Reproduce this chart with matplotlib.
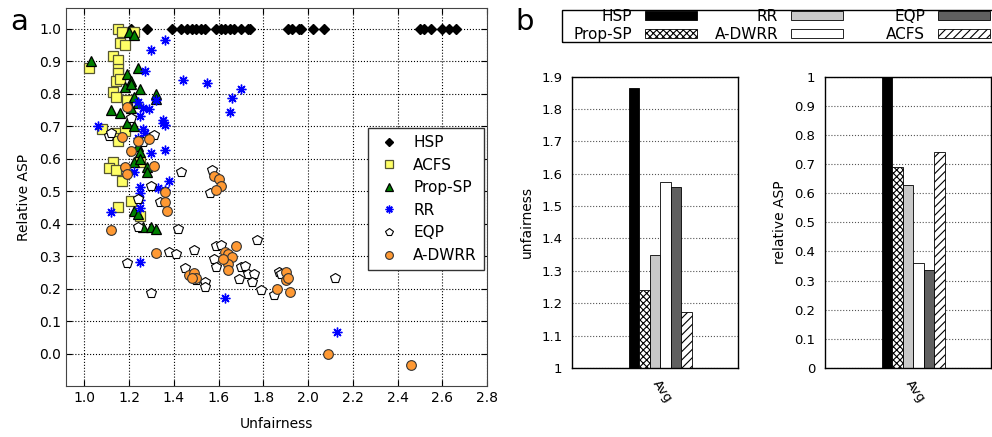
import matplotlib
matplotlib.use('Agg')
import matplotlib.pyplot as plt
from matplotlib.ticker import FormatStrFormatter
from matplotlib.patches import Rectangle
import numpy as np

plt.rcParams['font.family'] = ['DejaVu Sans']
plt.rcParams['hatch.linewidth'] = 0.8

# ---- panel a data (unfairness, relative ASP) ----
hsp_x = [1.21, 1.28, 1.39, 1.43, 1.46, 1.48, 1.50, 1.52, 1.54, 1.59, 1.61, 1.63, 1.65, 1.67,
         1.70, 1.73, 1.74, 1.91, 1.93, 1.96, 1.97, 2.02, 2.07, 2.50, 2.52, 2.55, 2.60, 2.63, 2.66]
hsp_y = [1.0] * len(hsp_x)

acfs_x = [1.15, 1.17, 1.22, 1.16, 1.18, 1.13, 1.15, 1.02, 1.15, 1.15, 1.14, 1.16, 1.13, 1.14, 1.19,
          1.08, 1.14, 1.15, 1.15, 1.18, 1.13, 1.11, 1.14, 1.17, 1.21, 1.15, 1.25, 1.25]
acfs_y = [1.0, 0.99, 0.99, 0.955, 0.95, 0.915, 0.905, 0.88, 0.875, 0.865, 0.84, 0.845, 0.805, 0.79, 0.78,
          0.69, 0.68, 0.665, 0.655, 0.685, 0.59, 0.57, 0.565, 0.53, 0.47, 0.45, 0.425, 0.59]

propsp_x = [1.03, 1.20, 1.22, 1.24, 1.19, 1.21, 1.18, 1.21, 1.25, 1.22, 1.32, 1.32, 1.12, 1.16, 1.21,
            1.24, 1.19, 1.22, 1.24, 1.25, 1.22, 1.28, 1.28, 1.22, 1.24, 1.26, 1.30, 1.32, 1.25]
propsp_y = [0.90, 0.99, 0.98, 0.88, 0.86, 0.84, 0.82, 0.83, 0.815, 0.79, 0.80, 0.785, 0.75, 0.74, 0.755,
            0.77, 0.71, 0.70, 0.64, 0.62, 0.59, 0.575, 0.56, 0.44, 0.43, 0.39, 0.39, 0.385, 0.60]

rr_x = [1.36, 1.30, 1.27, 1.44, 1.55, 1.70, 1.66, 1.65, 1.32, 1.26, 1.29, 1.24, 1.35, 1.35, 1.36, 1.06,
        1.25, 1.26, 1.27, 1.24, 1.36, 1.30, 1.22, 1.25, 1.38, 1.33, 1.36, 1.25, 1.25, 1.25, 1.12, 1.25,
        1.63, 2.13]
rr_y = [0.965, 0.935, 0.87, 0.843, 0.834, 0.815, 0.786, 0.744, 0.78, 0.755, 0.752, 0.775, 0.72, 0.71,
        0.704, 0.70, 0.73, 0.69, 0.68, 0.665, 0.627, 0.616, 0.56, 0.514, 0.53, 0.509, 0.504, 0.493,
        0.473, 0.447, 0.437, 0.283, 0.172, 0.066]

eqp_x = [1.21, 1.11, 1.12, 1.31, 1.43, 1.57, 1.56, 1.30, 1.34, 1.24, 1.24, 1.42, 1.38, 1.41, 1.49,
         1.59, 1.61, 1.77, 1.58, 1.59, 1.19, 1.45, 1.70, 1.72, 1.69, 1.73, 1.76, 1.75, 1.79, 1.54,
         1.54, 1.87, 1.85, 2.12, 1.30, 1.50, 1.88, 1.26]
eqp_y = [0.725, 0.67, 0.68, 0.672, 0.56, 0.565, 0.495, 0.515, 0.466, 0.476, 0.39, 0.383, 0.314, 0.307,
         0.32, 0.33, 0.335, 0.35, 0.29, 0.265, 0.28, 0.262, 0.266, 0.268, 0.23, 0.245, 0.245, 0.22,
         0.197, 0.22, 0.204, 0.25, 0.181, 0.232, 0.186, 0.225, 0.245, 0.65]

adwrr_x = [1.19, 1.17, 1.24, 1.29, 1.21, 1.18, 1.31, 1.19, 1.36, 1.36, 1.37, 1.12, 1.32, 1.58, 1.60,
           1.61, 1.59, 1.68, 1.63, 1.64, 1.66, 1.64, 1.64, 1.62, 1.47, 1.49, 1.50, 1.48, 1.90, 1.90,
           1.92, 1.86, 1.91, 2.09, 2.46]
adwrr_y = [0.758, 0.668, 0.655, 0.662, 0.625, 0.575, 0.577, 0.552, 0.496, 0.466, 0.44, 0.38, 0.31,
           0.548, 0.538, 0.515, 0.505, 0.33, 0.312, 0.307, 0.296, 0.276, 0.258, 0.29, 0.242, 0.247,
           0.232, 0.232, 0.252, 0.227, 0.19, 0.2, 0.232, -0.002, -0.035]

# ---- panel b data ----
schemes = ['HSP', 'Prop-SP', 'RR', 'A-DWRR', 'EQP', 'ACFS']
unfairness_avg = [1.865, 1.24, 1.348, 1.575, 1.56, 1.172]
rel_asp_avg = [1.0, 0.69, 0.627, 0.36, 0.337, 0.741]

bar_face = ['black', 'white', '#c8c8c8', 'white', '#606060', 'white']
bar_hatch = [None, 'xxxxx', None, None, None, '////']


fig = plt.figure(figsize=(9.92, 4.37), dpi=100)

# ---------------- panel a ----------------
ax = fig.add_axes([66 / 992, 1 - 386 / 437, 421 / 992, 378 / 437])
ax.plot(hsp_x, hsp_y, 'D', ms=5, color='black', mec='black', label='HSP', ls='none')
ax.plot(acfs_x, acfs_y, 's', ms=7, mfc='#ffff66', mec='#555533', mew=0.9, label='ACFS', ls='none')
ax.plot(propsp_x, propsp_y, '^', ms=7.5, mfc='#008000', mec='black', mew=0.9, label='Prop-SP', ls='none')
ax.plot(rr_x, rr_y, marker=(8, 2, 0), ms=7, color='blue', mec='blue', mew=1.0, label='RR', ls='none')
ax.plot(eqp_x, eqp_y, 'p', ms=7, mfc='white', mec='black', mew=0.8, label='EQP', ls='none')
ax.plot(adwrr_x, adwrr_y, 'o', ms=7, mfc='#ff9933', mec='#333333', mew=0.8, label='A-DWRR', ls='none')

ax.set_xlim(0.918, 2.8)
ax.set_ylim(-0.1, 1.064)
ax.set_xticks(np.arange(1.0, 2.81, 0.2))
ax.set_yticks(np.arange(0.0, 1.01, 0.1))
ax.xaxis.set_major_formatter(FormatStrFormatter('%.1f'))
ax.yaxis.set_major_formatter(FormatStrFormatter('%.1f'))
ax.tick_params(direction='in', top=True, right=True, labelsize=10, length=4)
ax.grid(True, ls=':', color='black', lw=0.8)
ax.set_axisbelow(True)
for s in ax.spines.values():
    s.set_color('#444444')
ax.set_xlabel('Unfairness', fontsize=10, labelpad=9)
ax.set_ylabel('Relative ASP', fontsize=10, labelpad=6)
leg = ax.legend(loc='upper left', bbox_to_anchor=((368 - 66) / 421, (386 - 128) / 378),
                borderaxespad=0, fontsize=11, fancybox=False, edgecolor='#333333', framealpha=1,
                markerscale=0.8, handletextpad=0.7, handlelength=1.8, labelspacing=0.5, borderpad=0.45)
leg.get_frame().set_linewidth(1.0)

fig.text(10 / 992, 1 - 22 / 437, 'a', fontsize=21, va='center')
fig.text(515 / 992, 1 - 22 / 437, 'b', fontsize=21, va='center')

# ---------------- panel b ----------------
w = 0.063
x0 = -0.158
pos = [x0 + w / 2 + i * w for i in range(len(schemes))]
tick_x = x0 + 3 * w


def draw_bars(axb, values, ylim, yticks, ylabel):
    bars = []
    for i, name in enumerate(schemes):
        b = axb.bar(pos[i], values[i] - ylim[0], bottom=ylim[0], width=w, color=bar_face[i],
                    edgecolor='black', hatch=bar_hatch[i], linewidth=0.6, label=name)
        bars.append(b)
    axb.set_xlim(-0.5, 0.5)
    axb.set_ylim(*ylim)
    axb.set_yticks(yticks)
    axb.yaxis.set_major_formatter(FormatStrFormatter('%g'))
    axb.set_xticks([tick_x])
    axb.set_xticklabels(['Avg'], rotation=-55, ha='left', rotation_mode='anchor')
    axb.tick_params(direction='in', length=0, labelsize=9.5, pad=7)
    axb.yaxis.grid(True, ls=':', color='#555555', lw=0.8)
    axb.set_axisbelow(True)
    axb.set_ylabel(ylabel, fontsize=10, labelpad=5)
    for s in axb.spines.values():
        s.set_linewidth(1.0)
    return bars


axu = fig.add_axes([572 / 992, 1 - 368 / 437, 166 / 992, 291.5 / 437])
bars_u = draw_bars(axu, unfairness_avg, (1.0, 1.9), np.arange(1.0, 1.91, 0.1), 'unfairness')

axr = fig.add_axes([825 / 992, 1 - 368 / 437, 166 / 992, 291.5 / 437])
draw_bars(axr, rel_asp_avg, (0.0, 1.0), np.arange(0.0, 1.01, 0.1), 'relative ASP')

# key for panel b: three columns, label left of the sample, right aligned
fig.add_artist(Rectangle((562 / 992, 1 - 42 / 437), 0.45, 32 / 437, transform=fig.transFigure,
                         fill=False, edgecolor='black', lw=1.0))
col_right = [697, 843, 990]
for c in range(3):
    leg_c = fig.legend(handles=bars_u[2 * c:2 * c + 2], labels=schemes[2 * c:2 * c + 2],
                       loc='upper right', bbox_to_anchor=(col_right[c] / 992, 1 - 9 / 437),
                       frameon=False, markerfirst=False, fontsize=11, borderpad=0, borderaxespad=0,
                       handlelength=3.4, handleheight=0.55, labelspacing=0.2, handletextpad=0.85)

fig.savefig('out.png', dpi=100)
